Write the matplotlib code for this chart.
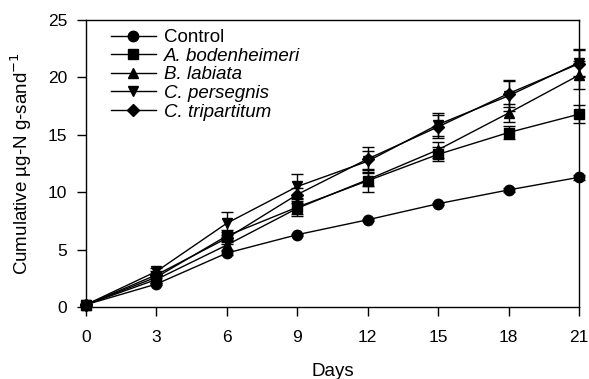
import matplotlib.pyplot as plt
from matplotlib.lines import Line2D
import numpy as np

plt.rcParams['font.family'] = ['Liberation Sans', 'DejaVu Sans']

days = [0, 3, 6, 9, 12, 15, 18, 21]

control = [0.2, 2.0, 4.7, 6.3, 7.6, 9.0, 10.2, 11.3]
control_err = [0.05, 0.1, 0.15, 0.1, 0.1, 0.1, 0.15, 0.2]
bodenheimeri = [0.2, 2.6, 6.2, 8.7, 11.0, 13.3, 15.2, 16.8]
bodenheimeri_err = [0.05, 0.3, 0.5, 0.8, 1.0, 0.6, 0.6, 0.8]
labiata = [0.2, 2.4, 5.4, 8.6, 11.1, 13.7, 16.9, 20.2]
labiata_err = [0.05, 0.3, 0.4, 0.5, 0.6, 0.7, 0.8, 1.2]
persegnis = [0.2, 3.1, 7.3, 10.5, 12.7, 15.9, 18.4, 21.3]
persegnis_err = [0.05, 0.3, 1.0, 1.1, 0.9, 1.0, 1.3, 1.2]
tripartitum = [0.2, 2.8, 6.0, 9.8, 12.9, 15.7, 18.6, 21.2]
tripartitum_err = [0.05, 0.3, 0.5, 0.6, 1.0, 1.0, 1.2, 1.2]

series = [
    ('Control', control, control_err, 'o', 'normal'),
    ('A. bodenheimeri', bodenheimeri, bodenheimeri_err, 's', 'italic'),
    ('B. labiata', labiata, labiata_err, '^', 'italic'),
    ('C. persegnis', persegnis, persegnis_err, 'v', 'italic'),
    ('C. tripartitum', tripartitum, tripartitum_err, 'D', 'italic'),
]

fig = plt.figure(figsize=(5.89, 3.79), dpi=100)
ax = fig.add_axes([0.146, 0.19, 0.837, 0.757])

handles = []
for name, vals, err, mk, style in series:
    ms = 6.5 if mk == 'D' else 7.5
    eb = ax.errorbar(days, vals, yerr=err, color='black', marker=mk, markersize=ms,
                     linewidth=1.0, elinewidth=1.0, capsize=4, capthick=1.0, clip_on=False)
    for art in eb.get_children():
        art.set_clip_on(False)
    handles.append(Line2D([], [], color='black', marker=mk, markersize=ms, linewidth=1.0))

ax.set_xlim(0, 21)
ax.set_ylim(0, 25)
ax.set_xticks(days)
ax.set_yticks(np.arange(0, 26, 5))
ax.tick_params(direction='out', length=6.5, width=1, labelsize=12.5,
               top=False, right=False)
ax.tick_params(axis='x', pad=10)
ax.tick_params(axis='y', pad=7)
ax.set_xlabel('Days', fontsize=13.5, labelpad=13)
ax.set_ylabel('Cumulative µg-N g-sand$^{-1}$', fontsize=13.5, labelpad=10)
for sp in ax.spines.values():
    sp.set_linewidth(1.0)

leg = ax.legend(handles, [s[0] for s in series], loc='upper left', frameon=False,
                fontsize=13.5, handlelength=2.4, handletextpad=0.45, labelspacing=0.08,
                borderaxespad=0.0, bbox_to_anchor=(0.035, 0.995))
for txt, s in zip(leg.get_texts(), series):
    txt.set_fontstyle(s[4])

fig.savefig('out.png', dpi=100)
